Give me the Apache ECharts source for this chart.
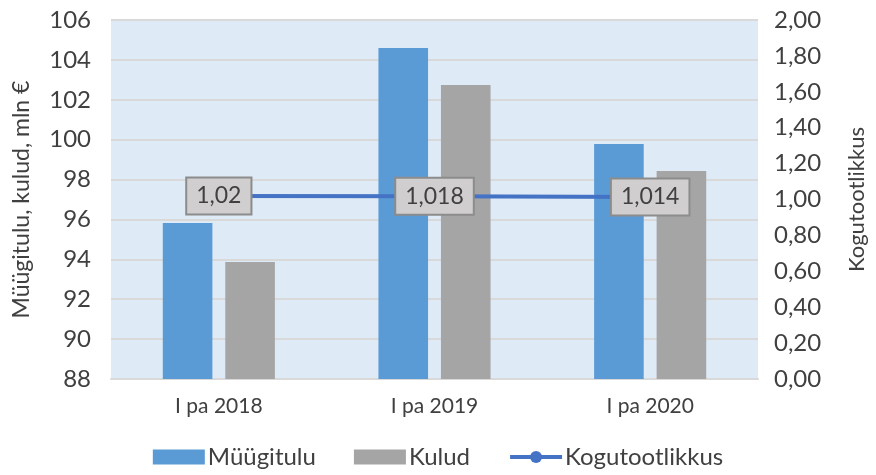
<!DOCTYPE html>
<html>
<head>
<meta charset="utf-8">
<script src="https://cdn.jsdelivr.net/npm/echarts@6/dist/echarts.min.js"></script>
<style>
  html, body { margin: 0; padding: 0; background: #fff; }
  #chart { width: 876px; height: 475px; }
</style>
</head>
<body>
<div id="chart"></div>
<script>
// andmed
var categories = ['I pa 2018', 'I pa 2019', 'I pa 2020']
var myygitulu = [95.82, 104.6, 99.78]
var kulud = [93.87, 102.74, 98.43]
var kogutootlikkus = [1.02, 1.018, 1.014]
var kogutootlikkusLabels = ['1,02', '1,018', '1,014']

var font = 'Lato'
var textColor = '#404040'

var myChart = echarts.init(document.getElementById('chart'))
myChart.setOption({
	textStyle: { fontFamily: font },
	grid: {
		left: 111,
		right: 109,
		top: 20,
		bottom: 96,
		show: true,
		backgroundColor: '#DEEAF6',
		borderWidth: 0,
	},
	legend: {
		bottom: 1,
		left: 'center',
		itemWidth: 52,
		itemHeight: 15,
		itemGap: 38,
		textStyle: { fontSize: 24, color: textColor, padding: [0, 0, 0, -2] },
		data: [
			{ name: 'Müügitulu', icon: 'rect' },
			{ name: 'Kulud', icon: 'rect' },
			{ name: 'Kogutootlikkus', lineStyle: { width: 4, color: '#4472C4' } },
		],
	},
	xAxis: {
		type: 'category',
		data: categories,
		axisTick: { show: false },
		axisLine: { lineStyle: { color: '#D9D9D9', width: 2 } },
		axisLabel: { fontSize: 21, color: textColor, margin: 17 },
	},
	yAxis: [
		{
			type: 'value',
			min: 88,
			max: 106,
			interval: 2,
			name: 'Müügitulu, kulud, mln €',
			nameLocation: 'middle',
			nameGap: 78,
			nameTextStyle: { fontSize: 23, color: textColor },
			axisLabel: { fontSize: 24, color: textColor, margin: 20 },
			splitLine: { lineStyle: { color: '#D9D9D9', width: 2 } },
			axisLine: { show: false },
			axisTick: { show: false },
		},
		{
			type: 'value',
			min: 0,
			max: 2,
			interval: 0.2,
			name: 'Kogutootlikkus',
			nameLocation: 'middle',
			nameGap: 88,
			nameTextStyle: { fontSize: 22, color: textColor },
			axisLabel: {
				fontSize: 24,
				color: textColor,
				margin: 16,
				formatter: function (v) {
					return v.toFixed(2).replace('.', ',')
				},
			},
			splitLine: { show: false },
			axisLine: { show: false },
			axisTick: { show: false },
		},
	],
	series: [
		{
			name: 'Müügitulu',
			type: 'bar',
			data: myygitulu,
			barWidth: '23%',
			barGap: '26%',
			itemStyle: { color: '#5B9BD5' },
		},
		{
			name: 'Kulud',
			type: 'bar',
			data: kulud,
			barWidth: '23%',
			barGap: '26%',
			itemStyle: { color: '#A5A5A5' },
		},
		{
			name: 'Kogutootlikkus',
			type: 'line',
			yAxisIndex: 1,
			data: kogutootlikkus,
			symbol: 'circle',
			symbolSize: 12,
			lineStyle: { color: '#4472C4', width: 4 },
			itemStyle: { color: '#4472C4' },
			label: {
				show: true,
				position: 'inside',
				fontSize: 23,
				color: textColor,
				backgroundColor: '#D0CECE',
				borderColor: '#8C8C8C',
				borderWidth: 2,
				padding: [6, 9, 6, 9],
				formatter: function (p) {
					return kogutootlikkusLabels[p.dataIndex]
				},
			},
		},
	],
})
</script>
</body>
</html>
